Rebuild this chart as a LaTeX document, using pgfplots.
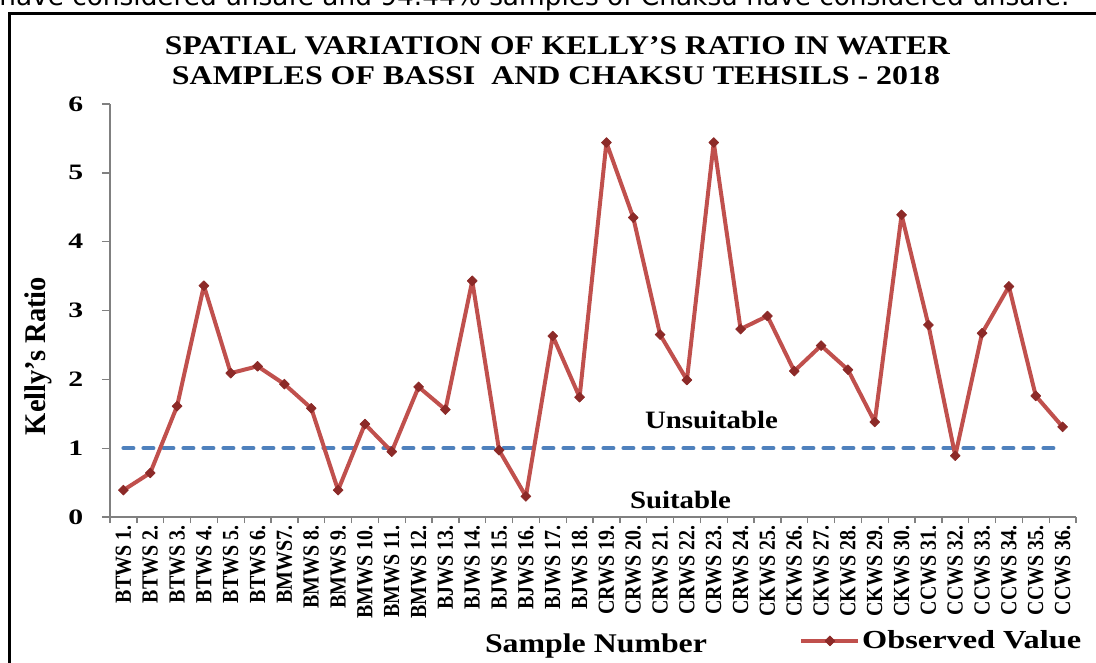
\documentclass[border=0pt]{standalone}
\usepackage{fontspec}
\setmainfont{Liberation Serif}
\newfontfamily\dejavu{DejaVu Sans}
\usepackage{graphicx}
\usepackage{pgfplots}
\pgfplotsset{compat=1.18}
\definecolor{obsred}{HTML}{C0504D}
\definecolor{mkred}{HTML}{8C2A28}
\definecolor{dashblue}{HTML}{4F81BD}
\definecolor{axgray}{HTML}{808080}
\newcommand\sx[1]{\scalebox{1}[1.15]{#1}}
\newcommand\sy[1]{\scalebox{1.35}[1]{#1}}
\begin{document}
\begin{tikzpicture}
\path[use as bounding box] (0,0) rectangle (657.6pt,-397.8pt);
\clip (0,0) rectangle (657.6pt,-397.8pt);
\begin{axis}[
  at={(66pt,-310.2pt)}, anchor=south west,
  scale only axis, width=579.6pt, height=247.8pt,
  xmin=0.5, xmax=36.5, ymin=0, ymax=6,
  axis x line*=bottom, axis y line*=left,
  axis line style={axgray, line width=0.8pt},
  tick align=outside,
  xtick={1,...,36},
  xticklabels={\sx{BTWS 1.},\sx{BTWS 2.},\sx{BTWS 3.},\sx{BTWS 4.},\sx{BTWS 5.},\sx{BTWS 6.},\sx{BMWS7.},\sx{BMWS 8.},\sx{BMWS 9.},\sx{BMWS 10.},\sx{BMWS 11.},\sx{BMWS 12.},\sx{BJWS 13.},\sx{BJWS 14.},\sx{BJWS 15.},\sx{BJWS 16.},\sx{BJWS 17.},\sx{BJWS 18.},\sx{CRWS 19.},\sx{CRWS 20.},\sx{CRWS 21.},\sx{CRWS 22.},\sx{CRWS 23.},\sx{CRWS 24.},\sx{CKWS 25.},\sx{CKWS 26.},\sx{CKWS 27.},\sx{CKWS 28.},\sx{CKWS 29.},\sx{CKWS 30.},\sx{CCWS 31.},\sx{CCWS 32.},\sx{CCWS 33.},\sx{CCWS 34.},\sx{CCWS 35.},\sx{CCWS 36.}},
  minor xtick={0.5,1.5,...,36.5},
  major x tick style={draw=none},
  minor x tick style={axgray, line width=0.8pt},
  minor tick length=3.6pt,
  ytick={0,...,6},
  yticklabels={\sy{0},\sy{1},\sy{2},\sy{3},\sy{4},\sy{5},\sy{6}},
  major tick length=4.8pt,
  y tick style={axgray, line width=0.8pt},
  xticklabel style={rotate=90, anchor=east, inner sep=0pt, font=\fontsize{12pt}{12pt}\selectfont\bfseries},
  yticklabel style={anchor=east, inner sep=0pt, xshift=-11pt, font=\fontsize{13.2pt}{13.2pt}\selectfont\bfseries},
  legend style={at={(0.7134,-0.300)}, anchor=west, draw=none, fill=none, inner sep=0pt, nodes={inner sep=1pt}, font=\fontsize{15.6pt}{15.6pt}\selectfont\bfseries},
  legend cell align=left,
  legend image code/.code={\draw[mark repeat=2,mark phase=2,#1] plot coordinates {(0pt,0pt) (17.1pt,0pt) (34.2pt,0pt)};},
  clip=false,
]
\addplot[dashblue, line width=2.4pt, dash pattern=on 6pt off 6pt, line cap=round, forget plot] coordinates {(1,1) (36,1)};
\addplot[color=obsred, line width=2.4pt, line join=round, mark=square*, mark size=2.1pt, mark options={fill=mkred, draw=mkred, line width=0.4pt, rotate=45}] coordinates {
(1,0.39) (2,0.64) (3,1.61) (4,3.36) (5,2.09) (6,2.19) (7,1.93) (8,1.58) (9,0.39)
(10,1.35) (11,0.95) (12,1.89) (13,1.56) (14,3.43) (15,0.97) (16,0.30) (17,2.63) (18,1.74)
(19,5.44) (20,4.35) (21,2.65) (22,1.99) (23,5.44) (24,2.73) (25,2.92) (26,2.12) (27,2.49)
(28,2.14) (29,1.38) (30,4.39) (31,2.79) (32,0.89) (33,2.67) (34,3.35) (35,1.76) (36,1.31)};
\addlegendentry{\resizebox{131.4pt}{\height}{Observed Value}}
\end{axis}
\begin{scope}[x=0.6pt,y=-0.6pt]
\draw[line width=1.8pt] (9,13.5) rectangle (1130,700);
\node[anchor=base west, inner sep=0pt] at (-1,6) {\resizebox{642pt}{!}{\dejavu have considered unsafe and 94.44\% samples of Chaksu have considered unsafe.}};
\node[anchor=base, inner sep=0pt, font=\fontsize{16.2pt}{16.2pt}\selectfont\bfseries] at (557.5,55) {\resizebox{471pt}{\height}{SPATIAL VARIATION OF KELLY'S RATIO IN WATER}};
\node[anchor=base, inner sep=0pt, font=\fontsize{16.2pt}{16.2pt}\selectfont\bfseries] at (556,85) {\resizebox{460.8pt}{\height}{SAMPLES OF BASSI\ \ AND CHAKSU TEHSILS - 2018}};
\node[rotate=90, anchor=center, inner sep=0pt, font=\fontsize{15pt}{15pt}\selectfont\bfseries] at (38,356) {\resizebox{94.8pt}{1.2\height}{Kelly's Ratio}};
\node[anchor=base, inner sep=0pt, font=\fontsize{16.2pt}{16.2pt}\selectfont\bfseries] at (596,652) {\resizebox{133.2pt}{\height}{Sample Number}};
\node[anchor=base, inner sep=0pt, font=\fontsize{15pt}{15pt}\selectfont\bfseries] at (711.5,428) {\resizebox{79.8pt}{\height}{Unsuitable}};
\node[anchor=base, inner sep=0pt, font=\fontsize{15pt}{15pt}\selectfont\bfseries] at (680.5,508) {\resizebox{60.6pt}{\height}{Suitable}};
\end{scope}
\end{tikzpicture}
\end{document}
